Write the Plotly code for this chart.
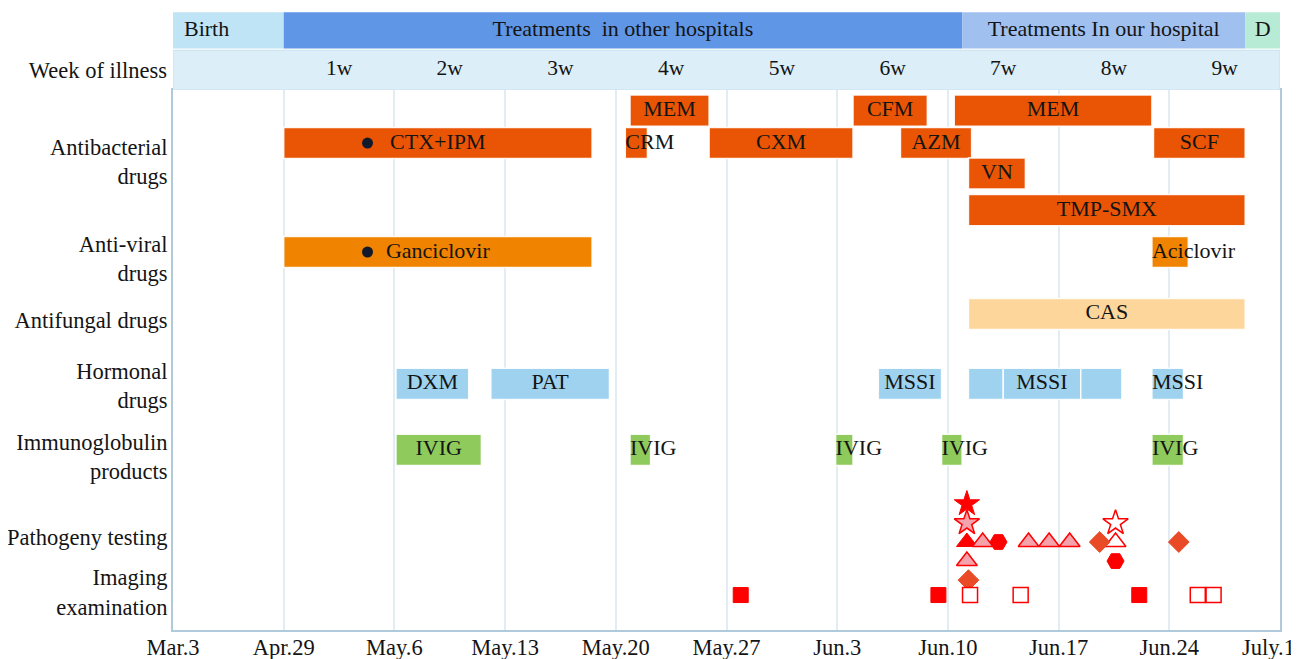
import plotly.graph_objects as go

# ---------------- data ----------------
# x = day of illness (0 = Apr.29); the birth period (Mar.3 -> Apr.29) is drawn compressed as one week
tick_days = [-7, 0, 7, 14, 21, 28, 35, 42, 49, 56, 63]
tick_labels = ["Mar.3", "Apr.29", "May.6", "May.13", "May.20", "May.27",
               "Jun.3", "Jun.10", "Jun.17", "Jun.24", "July.1"]

week_labels = ["1w", "2w", "3w", "4w", "5w", "6w", "7w", "8w", "9w"]
week_starts = [0, 7, 14, 21, 28, 35, 42, 49, 56]

phase_labels = ["Birth", "Treatments\u00a0 in other hospitals", "Treatments In our hospital", "D"]
phase_start = [-7, 0, 42.9, 60.8]
phase_end = [0, 42.9, 60.8, 63]

row_labels = ["Antibacterial<br>drugs", "Anti-viral<br>drugs", "Antifungal drugs",
              "Hormonal<br>drugs", "Immunoglobulin<br>products", "Pathogeny testing",
              "Imaging<br>examination"]

# antibacterial drugs (lane = sub-row inside the group)
ab_names = ["CTX+IPM", "MEM", "CRM", "CXM", "CFM", "AZM", "MEM", "SCF", "VN", "TMP-SMX"]
ab_start = [0.0, 21.9, 21.6, 26.9, 36.0, 39.0, 42.4, 55.0, 43.3, 43.3]
ab_end = [19.5, 26.9, 23.0, 36.0, 40.7, 43.5, 54.9, 60.8, 46.9, 60.8]
ab_lane = [1, 0, 1, 1, 0, 1, 0, 1, 2, 3]

av_names = ["Ganciclovir", "Aciclovir"]
av_start = [0.0, 54.9]
av_end = [19.5, 57.2]

# black dot marks on CTX+IPM and Ganciclovir bars
dot_day = [5.3, 5.3]
dot_row = ["ab1", "av"]

af_names = ["CAS"]
af_start = [43.3]
af_end = [60.8]

hm_names = ["DXM", "PAT", "MSSI", "", "MSSI", "", "MSSI"]
hm_start = [7.1, 13.1, 37.6, 43.3, 45.5, 50.4, 54.9]
hm_end = [11.7, 20.6, 41.6, 45.5, 50.4, 53.0, 56.9]

ig_names = ["IVIG", "IVIG", "IVIG", "IVIG", "IVIG"]
ig_start = [7.1, 21.9, 34.9, 41.6, 54.9]
ig_end = [12.5, 23.2, 36.0, 42.9, 56.9]

# pathogeny tests: day, kind, stack level (same-day results stacked)
pt_day = [43.2, 43.2, 43.2, 43.2, 43.3, 44.2, 45.2, 47.1, 48.4, 49.7, 51.6, 52.6, 52.6, 52.6, 56.6]
pt_kind = ["star_filled", "star_pink", "tri_filled", "tri_pink", "diamond", "tri_pink", "hex",
           "tri_pink", "tri_pink", "tri_pink", "diamond", "tri_open", "star_open", "hex", "diamond"]
pt_level = [-2, -1, 0, 1, 2, 0, 0, 0, 0, 0, 0, 0, -1, 1, 0]

# imaging examinations
im_day = [28.9, 41.4, 43.4, 46.6, 54.1, 57.8, 58.8]
im_kind = ["sq_filled", "sq_filled", "sq_open", "sq_open", "sq_filled", "sq_open", "sq_open"]

# ---------------- styling / layout ----------------
FONT = "Liberation Serif, Times New Roman, serif"
TXT = "#141414"
C_AB, C_AV, C_AF, C_HM, C_IG = "#e95504", "#f08300", "#fdd69b", "#9ed2ef", "#8fca5c"
PHASE_COLORS = ["#bfe4f6", "#5f96e6", "#a0c0ef", "#b8ebd5"]
WEEK_ROW = "#dceef8"
RED, PINK, ORED = "#ff0000", "#f4a3ac", "#e94b27"
AX_LINE = "#b0cadb"
GRID = "#e2edf3"
TICK_SIZE = 22.5

AB_LANES = [0.65, 1.67, 2.63, 3.78]
Y_AV, Y_AF, Y_HM, Y_IG, Y_PT, Y_IM = 5.1, 7.05, 9.25, 11.33, 14.23, 15.9
ROW_Y = {"ab1": AB_LANES[1], "av": Y_AV}
PT_STEP = 0.6
ROW_TICKS = [2.25, 5.31, 7.24, 9.30, 11.54, 14.07, 15.81]
BAR_W = 0.98

marker_styles = {
    "star_filled": dict(symbol="star", size=19, color=RED, line=dict(color=RED, width=1)),
    "star_pink": dict(symbol="star", size=19, color=PINK, line=dict(color=RED, width=1.5)),
    "star_open": dict(symbol="star", size=19, color="white", line=dict(color=RED, width=1.5)),
    "tri_filled": dict(symbol="triangle-up", size=18, color=RED, line=dict(color=RED, width=1)),
    "tri_pink": dict(symbol="triangle-up", size=18, color=PINK, line=dict(color=RED, width=1.5)),
    "tri_open": dict(symbol="triangle-up", size=18, color="white", line=dict(color=RED, width=1.5)),
    "hex": dict(symbol="hexagon2", size=17, color=RED, line=dict(color=RED, width=1)),
    "diamond": dict(symbol="diamond", size=16, color=ORED, line=dict(color=ORED, width=1)),
    "sq_filled": dict(symbol="square", size=15, color=RED, line=dict(color=RED, width=1)),
    "sq_open": dict(symbol="square", size=15, color="white", line=dict(color=RED, width=1.5)),
}

fig = go.Figure()
text_c = dict(x=[], y=[], t=[])
text_s = dict(x=[], y=[], t=[])


def add_bars(names, starts, ends, ys, color):
    fig.add_trace(go.Bar(
        orientation="h", y=ys, x=[e - s for s, e in zip(starts, ends)], base=starts,
        width=BAR_W, marker=dict(color=color, line=dict(color="rgba(255,255,255,0.9)", width=1.5)),
        hoverinfo="skip", showlegend=False))
    for n, s, e, y in zip(names, starts, ends, ys):
        if not n:
            continue
        if e - s < 3:
            text_s["x"].append(s); text_s["y"].append(y); text_s["t"].append(n)
        else:
            text_c["x"].append((s + e) / 2); text_c["y"].append(y); text_c["t"].append(n)


add_bars(ab_names, ab_start, ab_end, [AB_LANES[l] for l in ab_lane], C_AB)
add_bars(av_names, av_start, av_end, [Y_AV] * len(av_names), C_AV)
add_bars(af_names, af_start, af_end, [Y_AF] * len(af_names), C_AF)
add_bars(hm_names, hm_start, hm_end, [Y_HM] * len(hm_names), C_HM)
add_bars(ig_names, ig_start, ig_end, [Y_IG] * len(ig_names), C_IG)

# dots on the bars
fig.add_trace(go.Scatter(x=dot_day, y=[ROW_Y[r] for r in dot_row], mode="markers",
                         marker=dict(symbol="circle", size=11, color="#111a2c"),
                         hoverinfo="skip", showlegend=False))

# event markers
for kind, st in marker_styles.items():
    xs, ys = [], []
    for d, k, lv in zip(pt_day, pt_kind, pt_level):
        if k == kind:
            xs.append(d); ys.append(Y_PT + lv * PT_STEP)
    for d, k in zip(im_day, im_kind):
        if k == kind:
            xs.append(d); ys.append(Y_IM)
    if xs:
        fig.add_trace(go.Scatter(x=xs, y=ys, mode="markers", marker=st,
                                 hoverinfo="skip", showlegend=False, cliponaxis=False))

# bar labels
fig.add_trace(go.Scatter(x=text_c["x"], y=text_c["y"], text=text_c["t"], mode="text",
                         textposition="middle center", textfont=dict(family=FONT, size=22, color=TXT),
                         hoverinfo="skip", showlegend=False, cliponaxis=False))
fig.add_trace(go.Scatter(x=text_s["x"], y=text_s["y"], text=text_s["t"], mode="text",
                         textposition="middle right", textfont=dict(family=FONT, size=22, color=TXT),
                         hoverinfo="skip", showlegend=False, cliponaxis=False))

# header: phases (row 1) and week of illness (row 2)
H1, H1W, H2, H2W = 0.47, 0.93, 1.49, 1.02
fig.add_trace(go.Bar(orientation="h", y=[H1] * len(phase_labels),
                     x=[e - s for s, e in zip(phase_start, phase_end)], base=phase_start,
                     width=H1W, marker=dict(color=PHASE_COLORS, line=dict(width=0)),
                     xaxis="x2", yaxis="y2", hoverinfo="skip", showlegend=False))
fig.add_trace(go.Bar(orientation="h", y=[H2], x=[tick_days[-1] - tick_days[0]], base=[tick_days[0]],
                     width=H2W, marker=dict(color=WEEK_ROW, line=dict(color="#c6e0ee", width=1)),
                     xaxis="x2", yaxis="y2", hoverinfo="skip", showlegend=False))
ph_cx, ph_ct, ph_sx, ph_st = [], [], [], []
for n, s, e in zip(phase_labels, phase_start, phase_end):
    if n == "Birth":
        ph_sx.append(s); ph_st.append("  " + n)
    else:
        ph_cx.append((s + e) / 2); ph_ct.append(n)
fig.add_trace(go.Scatter(x=ph_cx, y=[H1] * len(ph_cx), text=ph_ct, mode="text",
                         textposition="middle center", textfont=dict(family=FONT, size=22, color=TXT),
                         xaxis="x2", yaxis="y2", hoverinfo="skip", showlegend=False))
fig.add_trace(go.Scatter(x=ph_sx, y=[H1] * len(ph_sx), text=ph_st, mode="text",
                         textposition="middle right", textfont=dict(family=FONT, size=22, color=TXT),
                         xaxis="x2", yaxis="y2", hoverinfo="skip", showlegend=False))
fig.add_trace(go.Scatter(x=[w + 3.5 for w in week_starts], y=[H2] * len(week_labels), text=week_labels,
                         mode="text", textposition="middle center",
                         textfont=dict(family=FONT, size=21.5, color=TXT),
                         xaxis="x2", yaxis="y2", hoverinfo="skip", showlegend=False))

# last date label is drawn as an annotation pulled slightly left so it stays inside the page
x_ticktext = tick_labels[:-1] + [""]
fig.add_annotation(x=tick_days[-1], y=0, xref="x", yref="paper", text=tick_labels[-1],
                   showarrow=False, xanchor="center", yanchor="top", xshift=-12, yshift=-3,
                   font=dict(family=FONT, size=TICK_SIZE, color=TXT))

# the page body adds an 8px offset at top-left, so the figure is 8px smaller
MAIN_TOP = 540 / 618
fig.update_layout(
    width=1291, height=651,
    margin=dict(l=165, r=19, t=4, b=29, autoexpand=False),
    paper_bgcolor="white", plot_bgcolor="white",
    barmode="overlay", showlegend=False,
    font=dict(family=FONT, size=21, color=TXT),
    xaxis=dict(range=[tick_days[0], tick_days[-1]], tickmode="array", tickvals=tick_days,
               ticktext=x_ticktext, showgrid=True, gridcolor=GRID, gridwidth=1.5,
               showline=True, linecolor=AX_LINE, linewidth=2, mirror=True, ticks="",
               zeroline=False, ticklabelstandoff=-4,
               tickfont=dict(family=FONT, size=TICK_SIZE, color=TXT), anchor="y"),
    yaxis=dict(domain=[0, MAIN_TOP], range=[17, 0], tickmode="array", tickvals=ROW_TICKS,
               ticktext=row_labels, showgrid=False, zeroline=False, showline=True,
               linecolor=AX_LINE, linewidth=2, mirror=True, ticks="", ticklabelstandoff=-1,
               tickfont=dict(family=FONT, size=TICK_SIZE, color=TXT), anchor="x"),
    xaxis2=dict(matches="x", anchor="y2", visible=False, showgrid=False,
                range=[tick_days[0], tick_days[-1]]),
    yaxis2=dict(domain=[MAIN_TOP, 1], range=[2, 0], tickmode="array", tickvals=[H2],
                ticktext=["Week of illness"], showgrid=False, zeroline=False, showline=False,
                ticks="", ticklabelstandoff=5, tickfont=dict(family=FONT, size=TICK_SIZE, color=TXT),
                anchor="x2"),
)

fig.write_html("out.html")
